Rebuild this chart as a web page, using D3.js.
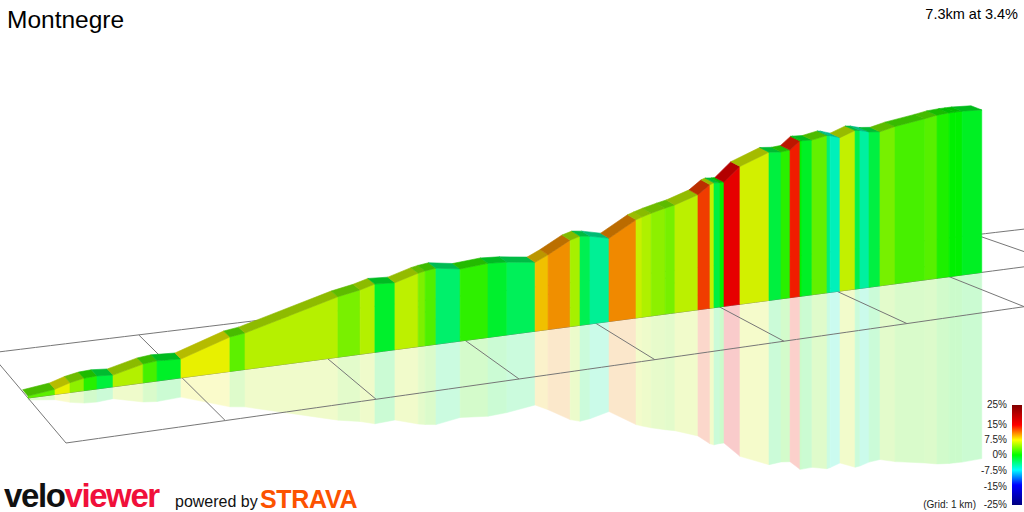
<!DOCTYPE html>
<html><head><meta charset="utf-8">
<script src="https://cdn.jsdelivr.net/npm/d3@7"></script>
<style>body{margin:0;background:#fff}svg{display:block}text{font-family:"Liberation Sans",Arial,sans-serif}</style>
</head><body><svg id="c" width="1024" height="512"></svg>
<script>
// distance along route (km) and elevation above start (m) at each segment boundary
const distances = [0,0.171,0.267,0.357,0.441,0.545,0.742,0.834,0.993,1.323,1.426,2.074,2.232,2.338,2.483,2.652,2.703,2.783,2.962,3.171,3.314,3.529,3.629,3.800,3.877,3.955,4.105,4.320,4.368,4.441,4.554,4.634,4.822,4.921,4.954,5.004,5.037,5.170,5.414,5.516,5.593,5.678,5.695,5.781,5.911,5.938,6.024,6.156,6.199,6.279,6.376,6.510,6.779,6.889,6.999,7.054,7.118,7.30];
const elevations = [3,8,15,19,20,18,29,31,29,53,56,93,99,105,103,113,115,117,111,114,112,106,115,133,137,135,128,151,154,158,163,166,177,190,192,191,191,212,228,226,227,239,239,238,242,241,236,244,243,239,237,242,248,251,252,252,252,250];
const gradStops = [-25,-15,-7.5,0,7.5,15,25];
const gradColors = ["#000080","#0000ff","#00ffff","#00ff00","#ffff00","#ff0000","#800000"];
const legendLabels = ["25%","15%","7.5%","0%","-7.5%","-15%","-25%"];
const gridKm = [0,1,2,3,4,5,6,7,8];
const title = "Montnegre", summary = "7.3km at 3.4%";

const svg = d3.select("#c");
const color = d3.scaleLinear().domain(gradStops).range(gradColors).interpolate(d3.interpolateRgb);
const shade = c => { const k = d3.rgb(c); return d3.rgb(k.r*0.94,k.g*0.94,k.b*0.94).formatHex(); };

// perspective-like projection along the route
const px = d => 28 + 158.5*d/(1+0.0292*d);
const py = x => 398 - 0.1317*(x-28);
const hx = d3.scaleLinear().domain([0,7]).range([-38,-75]);
const hy = d3.scaleLinear().domain([0,7]).range([-45,-30]);
const hScale = d3.scaleLinear().domain([0,260]).range([0,169]);
function M(d){const x=px(d);return [x,py(x)];}
function F(d){const m=M(d);return [m[0]-hx(d),m[1]-hy(d)];}
function B(d){const m=M(d);return [m[0]+hx(d),m[1]+hy(d)];}

const segs = d3.range(distances.length-1).map(i=>{
  const d0=distances[i], d1=distances[i+1], e0=elevations[i], e1=elevations[i+1];
  const g=(e1-e0)/((d1-d0)*1000)*100;
  return {d0,d1,e0,e1,c:shade(color(Math.max(-25,Math.min(25,g))))};
});

// reflection
const gRef = svg.append("g").attr("opacity",0.2);
segs.forEach(s=>{
  const a=M(s.d0), b=M(s.d1), f0=1+0.02*s.d0, f1=1+0.02*s.d1;
  gRef.append("path").attr("d",`M${a[0]},${a[1]}L${b[0]},${b[1]}L${b[0]},${b[1]+hScale(s.e1)*f1}L${a[0]},${a[1]+hScale(s.e0)*f0}Z`)
    .attr("fill",s.c).attr("stroke",s.c).attr("stroke-width",0.5);
});

// grid
const gGrid = svg.append("g").attr("stroke","#777").attr("stroke-width",1).attr("fill","none");
const line = d3.line();
const dd = d3.range(0,8.6,0.1);
gGrid.append("path").attr("d",line(dd.map(F)));
gGrid.append("path").attr("d",line(dd.map(B)));
gGrid.append("path").attr("d",line(dd.map(M)));
gridKm.forEach(k=>gGrid.append("path").attr("d",line([F(k),B(k)])));

// wall
const gWall = svg.append("g");
segs.forEach(s=>{
  const a=M(s.d0), b=M(s.d1), t0=a[1]-hScale(s.e0), t1=b[1]-hScale(s.e1);
  gWall.append("path").attr("d",`M${a[0]},${a[1]}L${b[0]},${b[1]}L${b[0]},${t1}L${a[0]},${t0}Z`)
    .attr("fill",s.c).attr("stroke",s.c).attr("stroke-width",0.6);
  const o0=[hx(s.d0)*0.14,hy(s.d0)*0.14], o1=[hx(s.d1)*0.14,hy(s.d1)*0.14];
  const top = d3.color(s.c).darker(0.7).formatHex();
  gWall.append("path").attr("d",`M${a[0]},${t0}L${b[0]},${t1}L${b[0]+o1[0]},${t1+o1[1]}L${a[0]+o0[0]},${t0+o0[1]}Z`)
    .attr("fill",top).attr("stroke",top).attr("stroke-width",0.6);
});

// texts
svg.append("text").attr("x",7).attr("y",28).attr("font-size",24.5).attr("fill","#000").text(title);
svg.append("text").attr("x",1018).attr("y",19).attr("text-anchor","end").attr("font-size",14.5).attr("fill","#000").text(summary);

// legend
const defs = svg.append("defs");
const lg = defs.append("linearGradient").attr("id","lg").attr("x1",0).attr("y1",1).attr("x2",0).attr("y2",0);
gradStops.forEach((v,i)=>lg.append("stop").attr("offset",(v+25)/50).attr("stop-color",gradColors[i]));
svg.append("rect").attr("x",1012).attr("y",405).attr("width",10).attr("height",100).attr("fill","url(#lg)");
const ly = [408,428,443,458,474,490,508];
legendLabels.forEach((t,i)=>svg.append("text").attr("x",1007).attr("y",ly[i]).attr("text-anchor","end").attr("font-size",10).attr("fill","#222").text(t));
svg.append("text").attr("x",976).attr("y",508).attr("text-anchor","end").attr("font-size",10).attr("fill","#222").text("(Grid: 1 km)");

// logos
const logo = svg.append("text").attr("x",4).attr("y",507).attr("font-size",33).attr("font-weight","900").attr("letter-spacing",-1.4).attr("font-family","'DejaVu Sans',sans-serif");
logo.append("tspan").attr("fill","#111").text("velo");
logo.append("tspan").attr("fill","#f0103a").text("viewer");
svg.append("text").attr("x",175).attr("y",507).attr("font-size",16).attr("fill","#111").text("powered by");
svg.append("text").attr("x",260).attr("y",508).attr("font-size",25).attr("font-weight","900").attr("fill","#fc5200").attr("font-family","'DejaVu Sans',sans-serif").attr("letter-spacing",-0.3).text("STRAVA");
</script></body></html>
